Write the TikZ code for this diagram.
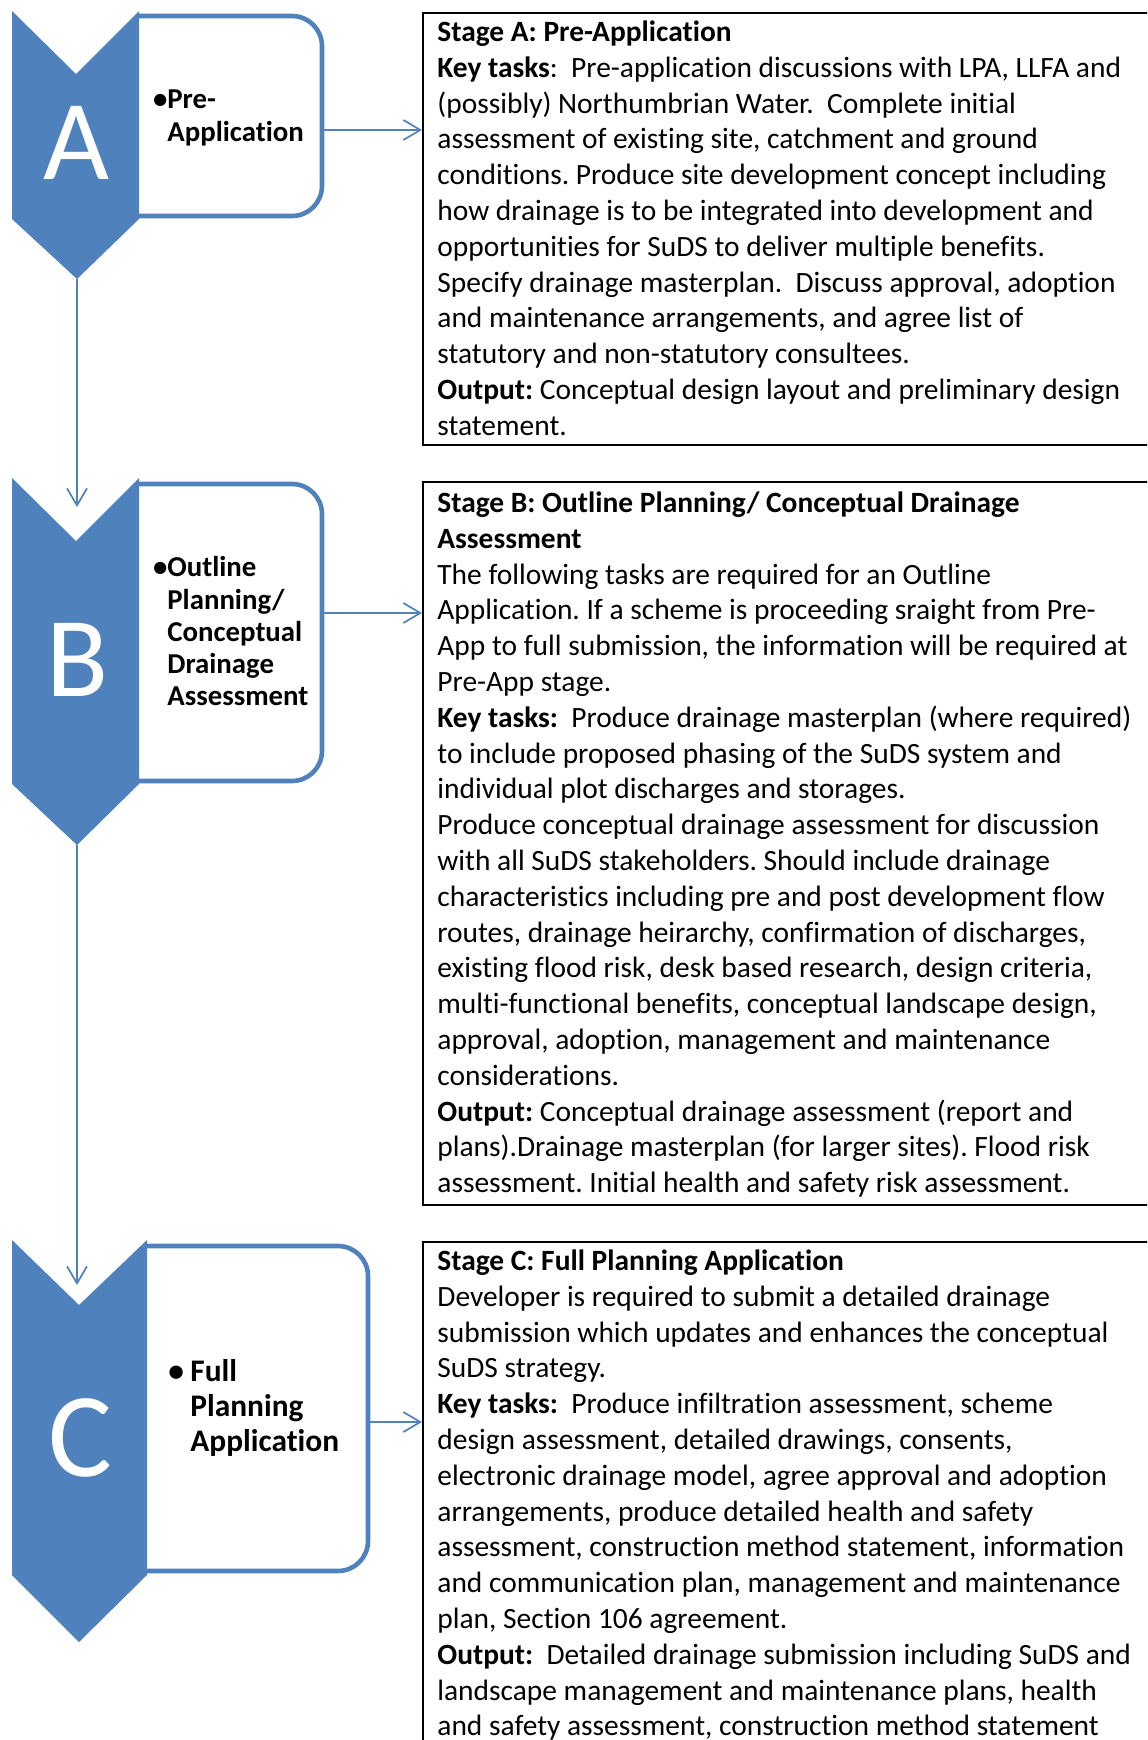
\documentclass[tikz,border=0pt]{standalone}
\usepackage{fontspec}
\setmainfont{Carlito}[Ligatures={NoCommon}]
\usetikzlibrary{arrows.meta}
\definecolor{accent}{HTML}{4F81BD}
\frenchspacing

\tikzset{
  chev/.style={fill=accent, draw=none},
  labelbox/.style={draw=accent, line width=2.3pt, fill=white, rounded corners=15pt},
  flow/.style={draw=accent, line width=0.85pt, -{Straight Barb[length=8.5pt,width=10pt]}},
  frame/.style={draw=black, line width=1pt, anchor=north west, inner sep=0pt, minimum width=369pt},
  body/.style={anchor=north west, inner sep=0pt, align=left, font=\fontsize{14.72}{17.9}\selectfont},
  tag/.style={anchor=north west, inner sep=0pt, align=left, font=\bfseries\fontsize{14.4}{16.1}\selectfont},
  bigtag/.style={anchor=north west, inner sep=0pt, align=left, font=\bfseries\fontsize{15.7}{17.5}\selectfont},
  letter/.style={text=white, inner sep=0pt, font=\fontsize{57}{60}\selectfont},
}

\begin{document}
\begin{tikzpicture}[x=0.5pt,y=-0.5pt]
\useasboundingbox (0,0) rectangle (1147,1740);
\clip (0,0) rectangle (1147,1740);

% ---------- stage label boxes (right corners rounded, left side under the chevrons)
\draw[labelbox] (139,16) -- (322,16) -- (322,216) -- (139,216);
\draw[labelbox] (139,484) -- (322,484) -- (322,781) -- (139,781);
\draw[labelbox] (147,1246) -- (368,1246) -- (368,1571) -- (147,1571);

% ---------- chevrons
\fill[chev] (12,11) -- (76,74) -- (139,11) -- (139,219) -- (77,279) -- (12,219) -- cycle;
\fill[chev] (12,478) -- (76,541) -- (139,478) -- (139,784) -- (77,845) -- (12,784) -- cycle;
\fill[chev] (12,1240) -- (79,1305) -- (147,1240) -- (147,1575) -- (79,1642) -- (12,1575) -- cycle;

\node[letter] (letA) at (76,143) {A};
\node[letter] (letB) at (78,660) {B};
\node[letter, font=\fontsize{60}{62}\selectfont] (letC) at (80,1438) {C};

% ---------- stage names
\node[tag] (tagA) at (167,86) {\strut\llap{\textbullet}Pre-\\Application};
\node[tag] (tagB) at (167,554) {\strut\llap{\textbullet}Outline\\Planning/\\Conceptual\\Drainage\\Assessment};
\node[bigtag] (tagC) at (190,1357) {\strut\llap{\makebox[11pt][l]{\textbullet}}Full\\Planning\\Application};

% ---------- description frames
\node[frame, minimum height=216pt] (frameA) at (422,12) {};
\node[frame, minimum height=361.5pt] (frameB) at (422,481) {};
\node[frame, minimum height=262pt] (frameC) at (422,1241) {};

\node[body] (txtA) at (437,16) {\strut\textbf{Stage A: Pre-Application}\\
\textbf{Key tasks}:\ \ Pre-application discussions with LPA, LLFA and\\
(possibly) Northumbrian Water.\ \ Complete initial\\
assessment of existing site, catchment and ground\\
conditions. Produce site development concept including\\
how drainage is to be integrated into development and\\
opportunities for SuDS to deliver multiple benefits.\\
Specify drainage masterplan.\ \ Discuss approval, adoption\\
and maintenance arrangements, and agree list of\\
statutory and non-statutory consultees.\\
\textbf{Output:} Conceptual design layout and preliminary design\\
statement.};

\node[body] (txtB) at (437,487) {\strut\textbf{Stage B: Outline Planning/ Conceptual Drainage}\\
\textbf{Assessment}\\
The following tasks are required for an Outline\\
Application. If a scheme is proceeding sraight from Pre-\\
App to full submission, the information will be required at\\
Pre-App stage.\\
\textbf{Key tasks:}\ \ Produce drainage masterplan (where required)\\
to include proposed phasing of the SuDS system and\\
individual plot discharges and storages.\\
Produce conceptual drainage assessment for discussion\\
with all SuDS stakeholders. Should include drainage\\
characteristics including pre and post development flow\\
routes, drainage heirarchy, confirmation of discharges,\\
existing flood risk, desk based research, design criteria,\\
multi-functional benefits, conceptual landscape design,\\
approval, adoption, management and maintenance\\
considerations.\\
\textbf{Output:} Conceptual drainage assessment (report and\\
plans).Drainage masterplan (for larger sites). Flood risk\\
assessment. Initial health and safety risk assessment.};

\node[body] (txtC) at (437,1245) {\strut\textbf{Stage C: Full Planning Application}\\
Developer is required to submit a detailed drainage\\
submission which updates and enhances the conceptual\\
SuDS strategy.\\
\textbf{Key tasks:}\ \ Produce infiltration assessment, scheme\\
design assessment, detailed drawings, consents,\\
electronic drainage model, agree approval and adoption\\
arrangements, produce detailed health and safety\\
assessment, construction method statement, information\\
and communication plan, management and maintenance\\
plan, Section 106 agreement.\\
\textbf{Output:}\ \ Detailed drainage submission including SuDS and\\
landscape management and maintenance plans, health\\
and safety assessment, construction method statement};

% ---------- connectors
\coordinate (outA) at (322,130);
\coordinate (outB) at (322,613);
\coordinate (outC) at (368,1422);
\coordinate (tipA) at (77,279);
\coordinate (tipB) at (77,845);
\coordinate (inB) at (77,507);
\coordinate (inC) at (77,1285);

\draw[flow] (outA) -- (frameA.west |- outA);
\draw[flow] (outB) -- (frameB.west |- outB);
\draw[flow] (outC) -- (frameC.west |- outC);
\draw[flow] (tipA) -- (inB);
\draw[flow] (tipB) -- (inC);
\end{tikzpicture}
\end{document}
